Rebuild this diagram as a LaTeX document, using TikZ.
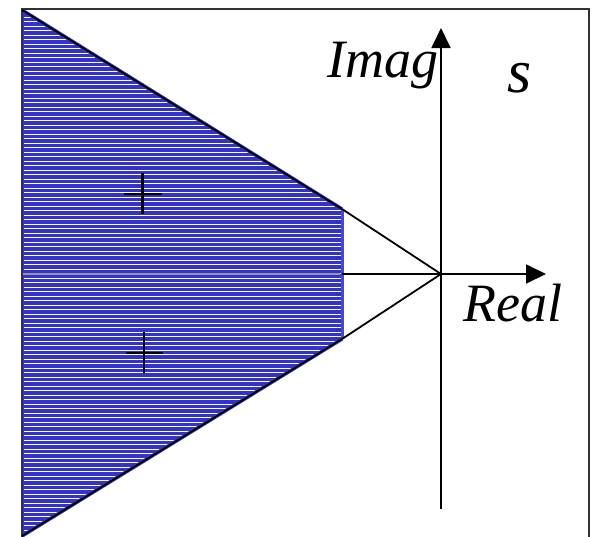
\documentclass[tikz,border=0pt]{standalone}
\usepackage{fontspec}
\setmainfont{Liberation Serif}
\usetikzlibrary{arrows.meta}
\definecolor{fillblue}{RGB}{51,51,204}
\definecolor{edgeblue}{RGB}{70,70,220}
\tikzset{
  frameline/.style={draw=black!80,line width=2pt},
  axisline/.style={draw=black,line width=1.8pt,-{Triangle[length=20pt,width=19pt]}},
  edgeline/.style={draw=black,line width=1.8pt},
  plusmark/.style={draw=black,line width=2.6pt},
  lbl/.style={inner sep=0pt,anchor=base west,font=\fontsize{54}{60}\selectfont\itshape}
}
\begin{document}
\begin{tikzpicture}[x=1pt,y=-1pt]
\useasboundingbox (0,0) rectangle (593,536);
% key points
\coordinate (tl) at (22,10);
\coordinate (bl) at (22,536);
\coordinate (ut) at (342,209);
\coordinate (lt) at (342,339);
\coordinate (o) at (441,274);
% shaded region
\fill[fillblue] (tl) -- (ut) -- (lt) -- (bl) -- cycle;
\begin{scope}
  \clip (tl) -- (ut) -- (lt) -- (bl) -- cycle;
  \foreach \y in {12.5,17,...,536} {
    \draw[white,line width=0.9pt] (24,\y) -- (342,\y);
  }
  \draw[black!40,line width=1.5pt] (22,274) -- (340,274);
\end{scope}
\draw[edgeblue,line width=3pt] (ut) -- (lt);
\draw[fillblue,line width=3.5pt] (tl) -- (ut);
\draw[fillblue,line width=3.5pt] (bl) -- (lt);
% frame
\draw[frameline] (22,540) -- (22,9) -- (589,9) -- (589,540);
% diagonals
\draw[edgeline] (tl) -- (ut) -- (o);
\draw[edgeline] (bl) -- (lt) -- (o);
% axes
\coordinate (ybot) at (441,509);
\coordinate (ytop) at (441,28);
\coordinate (xl) at (342,274);
\coordinate (xr) at (546,274);
\draw[axisline] (ybot) -- (ytop);
\draw[axisline] (xl) -- (xr);
% plus marks
\draw[plusmark] (142.5,173) -- (142.5,214);
\draw[plusmark] (124,194) -- (162,194);
\draw[plusmark] (144,332) -- (144,373);
\draw[plusmark] (126,353) -- (163,353);
% labels
\node[lbl] (imag) at (327,77) {Imag};
\node[lbl,font=\fontsize{62}{66}\selectfont\itshape] (s) at (507,92) {s};
\node[lbl] (real) at (463,321) {Real};
\end{tikzpicture}
\end{document}
